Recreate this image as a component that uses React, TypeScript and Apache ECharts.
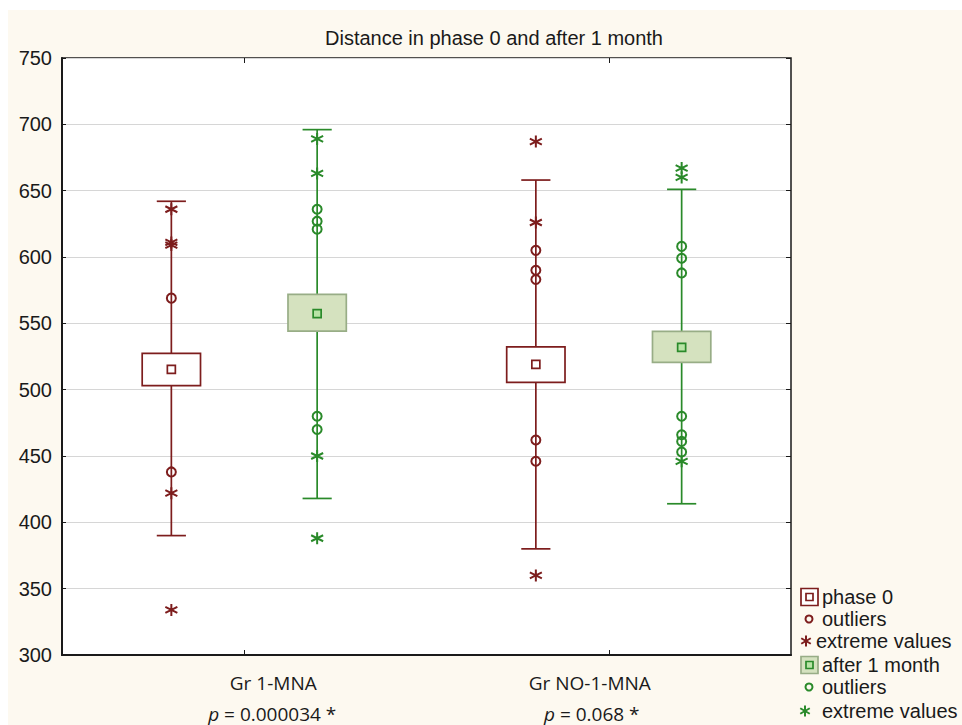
import React, { useEffect, useRef } from 'react';
import * as echarts from 'echarts';

// ---------- data ----------
const categories = ['Gr 1-MNA', 'Gr NO-1-MNA'];
const pValues = ['0.000034 *', '0.068 *'];
const titleText = 'Distance in phase 0 and after 1 month';
const yMin = 300;
const yMax = 750;
const yStep = 50;

// phase 0
const phase0Mean = [515.3, 519.1];
const phase0BoxLow = [503, 505.5];
const phase0BoxHigh = [527.4, 532.2];
const phase0WhiskerLow = [390, 380];
const phase0WhiskerHigh = [642, 658];
const phase0Outliers = [
  [569, 438],
  [605, 590, 583, 462, 446],
];
const phase0Extremes = [
  [636, 611, 609, 422, 334],
  [687, 626, 360],
];

// after 1 month
const afterMean = [557.3, 531.9];
const afterBoxLow = [544.2, 520.6];
const afterBoxHigh = [571.9, 544];
const afterWhiskerLow = [418, 414];
const afterWhiskerHigh = [696, 651];
const afterOutliers = [
  [636, 627, 621, 480, 470],
  [608, 599, 588, 480, 466, 461, 453],
];
const afterExtremes = [
  [689, 663, 450, 388],
  [667, 660, 446],
];

const legendLabels = ['phase 0', 'outliers', 'extreme values', 'after 1 month', 'outliers', 'extreme values'];

// ---------- styles ----------
const RED = '#7d1d1d';
const GREEN = '#2a8a2a';
const GREEN_BOX = '#d5e2bf';
const GREEN_BOX_BORDER = '#98ad86';
const GREEN_MEAN = '#b9e4a6';
const BG = '#fdf9f0';
const FONT = '"Liberation Sans", Arial, sans-serif';
const ASTERISK = 'path://M5 0L5 10M0.67 2.5L9.33 7.5M0.67 7.5L9.33 2.5';

const groupX = (g: number, side: number) => g * 2 + 1 + side * 0.4;

function boxRows(side: number, mean: number[], bl: number[], bh: number[], wl: number[], wh: number[]) {
  return categories.map((_, g) => [groupX(g, side), wl[g], bl[g], bh[g], wh[g], mean[g]]);
}

function pointRows(side: number, vals: number[][]) {
  const out: number[][] = [];
  vals.forEach((arr, g) => arr.forEach((v) => out.push([groupX(g, side), v])));
  return out;
}

function makeRender(stroke: string, boxFill: string, boxStroke: string, meanFill: string) {
  return (params: any, api: any) => {
    const x = api.value(0);
    const [cx, yWL] = api.coord([x, api.value(1)]);
    const yBL = api.coord([x, api.value(2)])[1];
    const yBH = api.coord([x, api.value(3)])[1];
    const yWH = api.coord([x, api.value(4)])[1];
    const yM = api.coord([x, api.value(5)])[1];
    const bw = api.size([0.32, 0])[0];
    const cw = api.size([0.16, 0])[0];
    const ls = { stroke, lineWidth: 1.7 };
    return {
      type: 'group',
      children: [
        { type: 'line', shape: { x1: cx, y1: yWL, x2: cx, y2: yWH }, style: ls },
        { type: 'line', shape: { x1: cx - cw / 2, y1: yWL, x2: cx + cw / 2, y2: yWL }, style: ls },
        { type: 'line', shape: { x1: cx - cw / 2, y1: yWH, x2: cx + cw / 2, y2: yWH }, style: ls },
        {
          type: 'rect',
          shape: { x: cx - bw / 2, y: yBH, width: bw, height: yBL - yBH },
          style: { fill: boxFill, stroke: boxStroke, lineWidth: 1.7 },
        },
        {
          type: 'rect',
          shape: { x: cx - 4, y: yM - 4, width: 8, height: 8 },
          style: { fill: meanFill, stroke, lineWidth: 1.7 },
        },
      ],
    };
  };
}

function asteriskGraphic(cx: number, cy: number, color: string) {
  const r = 5.5;
  const dx = r * 0.866;
  const dy = r * 0.5;
  const st = { stroke: color, lineWidth: 2 };
  return {
    type: 'group',
    children: [
      { type: 'line', shape: { x1: cx, y1: cy - r, x2: cx, y2: cy + r }, style: st },
      { type: 'line', shape: { x1: cx - dx, y1: cy - dy, x2: cx + dx, y2: cy + dy }, style: st },
      { type: 'line', shape: { x1: cx - dx, y1: cy + dy, x2: cx + dx, y2: cy - dy }, style: st },
    ],
  };
}

function legendGraphics() {
  const tStyle = (text: string, x: number, y: number) => ({
    type: 'text',
    x,
    y,
    style: { text, font: `20px ${FONT}`, fill: '#1a1a1a', textVerticalAlign: 'middle' },
  });
  const ys = [587, 609, 631, 655, 677, 701];
  const textX = 814;
  return [
    { type: 'rect', shape: { x: 793, y: ys[0] - 8.5, width: 17, height: 17 }, style: { fill: '#fff', stroke: RED, lineWidth: 1.7 } },
    { type: 'rect', shape: { x: 798, y: ys[0] - 3.5, width: 7, height: 7 }, style: { fill: '#fff', stroke: RED, lineWidth: 1.7 } },
    tStyle(legendLabels[0], textX, ys[0]),
    { type: 'circle', shape: { cx: 801, cy: ys[1], r: 3.5 }, style: { fill: 'none', stroke: RED, lineWidth: 2 } },
    tStyle(legendLabels[1], textX, ys[1]),
    asteriskGraphic(798, ys[2], RED),
    tStyle(legendLabels[2], 808, ys[2]),
    { type: 'rect', shape: { x: 793, y: ys[3] - 8.5, width: 17, height: 17 }, style: { fill: GREEN_BOX, stroke: GREEN_BOX_BORDER, lineWidth: 1.7 } },
    { type: 'rect', shape: { x: 798, y: ys[3] - 3.5, width: 7, height: 7 }, style: { fill: GREEN_MEAN, stroke: GREEN, lineWidth: 1.7 } },
    tStyle(legendLabels[3], textX, ys[3]),
    { type: 'circle', shape: { cx: 801, cy: ys[4], r: 3.5 }, style: { fill: 'none', stroke: GREEN, lineWidth: 2 } },
    tStyle(legendLabels[4], textX, ys[4]),
    asteriskGraphic(797, ys[5], GREEN),
    tStyle(legendLabels[5], textX, ys[5]),
  ];
}

export default function App() {
  const ref = useRef<HTMLDivElement>(null);

  useEffect(() => {
    if (!ref.current) return;
    const chart = echarts.init(ref.current, undefined, { renderer: 'svg' });

    const base = { fontFamily: '"Open Sans", sans-serif', fontSize: 19, color: '#1a1a1a', lineHeight: 31 };
    const richLabel: any = {
      g0: { ...base, padding: [0, 0, 0, 58] },
      i0: { ...base, fontStyle: 'italic', padding: [0, 0, 0, 56] },
      q0: { ...base },
      g1: { ...base, padding: [0, 38, 0, 0] },
      i1: { ...base, fontStyle: 'italic' },
      q1: { ...base, padding: [0, 34, 0, 0] },
    };

    const scatterBase = { type: 'scatter', xAxisIndex: 1, yAxisIndex: 0, z: 3 };

    const option: any = {
      animation: false,
      backgroundColor: BG,
      title: {
        text: titleText,
        left: 481,
        top: 13,
        textAlign: 'center',
        textStyle: { fontFamily: FONT, fontSize: 20, fontWeight: 'normal', color: '#1a1a1a' },
      },
      grid: {
        left: 54,
        top: 48,
        right: 171,
        bottom: 70,
        show: true,
        backgroundColor: '#ffffff',
        borderColor: '#1a1a1a',
        borderWidth: 1.5,
        containLabel: false,
      },
      xAxis: [
        {
          type: 'category',
          data: categories,
          position: 'bottom',
          boundaryGap: true,
          axisLine: { show: true, lineStyle: { color: '#1a1a1a', width: 2 } },
          axisTick: { show: true, inside: true, alignWithLabel: true, length: 5, lineStyle: { color: '#1a1a1a' } },
          splitLine: { show: false },
          axisLabel: {
            margin: 12,
            interval: 0,
            formatter: (value: string, index: number) =>
              `{g${index}|${value}}\n{i${index}|p}{q${index}| = ${pValues[index]}}`,
            rich: richLabel,
          },
        },
        {
          type: 'value',
          min: 0,
          max: categories.length * 2,
          show: false,
          splitLine: { show: false },
        },
        {
          type: 'category',
          data: categories,
          position: 'top',
          boundaryGap: true,
          axisLine: { show: false },
          axisTick: { show: true, inside: true, alignWithLabel: true, length: 5, lineStyle: { color: '#1a1a1a' } },
          axisLabel: { show: false },
          splitLine: { show: false },
        },
      ],
      yAxis: [
        {
          type: 'value',
          min: yMin,
          max: yMax,
          interval: yStep,
          position: 'left',
          axisLine: { show: true, lineStyle: { color: '#1a1a1a', width: 2 } },
          axisTick: { show: true, inside: true, length: 4, lineStyle: { color: '#1a1a1a' } },
          axisLabel: { margin: 10, fontFamily: FONT, fontSize: 20, color: '#1a1a1a' },
          splitLine: { show: true, lineStyle: { color: '#d6d6d6', width: 1.2 } },
        },
        {
          type: 'value',
          min: yMin,
          max: yMax,
          interval: yStep,
          position: 'right',
          axisLine: { show: false },
          axisTick: { show: true, inside: true, length: 5, lineStyle: { color: '#1a1a1a' } },
          axisLabel: { show: false },
          splitLine: { show: false },
        },
      ],
      series: [
        {
          name: 'phase 0',
          type: 'custom',
          xAxisIndex: 1,
          yAxisIndex: 0,
          renderItem: makeRender(RED, '#ffffff', RED, '#ffffff'),
          encode: { x: 0, y: [1, 2, 3, 4, 5] },
          data: boxRows(-1, phase0Mean, phase0BoxLow, phase0BoxHigh, phase0WhiskerLow, phase0WhiskerHigh),
          z: 2,
        },
        {
          name: 'after 1 month',
          type: 'custom',
          xAxisIndex: 1,
          yAxisIndex: 0,
          renderItem: makeRender(GREEN, GREEN_BOX, GREEN_BOX_BORDER, GREEN_MEAN),
          encode: { x: 0, y: [1, 2, 3, 4, 5] },
          data: boxRows(1, afterMean, afterBoxLow, afterBoxHigh, afterWhiskerLow, afterWhiskerHigh),
          z: 2,
        },
        {
          ...scatterBase,
          name: 'phase 0 outliers',
          symbol: 'circle',
          symbolSize: 9,
          itemStyle: { color: 'rgba(255,255,255,0)', borderColor: RED, borderWidth: 2, opacity: 1 },
          data: pointRows(-1, phase0Outliers),
        },
        {
          ...scatterBase,
          name: 'phase 0 extreme values',
          symbol: ASTERISK,
          symbolSize: 12,
          itemStyle: { color: 'none', borderColor: RED, borderWidth: 2, opacity: 1 },
          data: pointRows(-1, phase0Extremes),
        },
        {
          ...scatterBase,
          name: 'after 1 month outliers',
          symbol: 'circle',
          symbolSize: 9,
          itemStyle: { color: 'rgba(255,255,255,0)', borderColor: GREEN, borderWidth: 2, opacity: 1 },
          data: pointRows(1, afterOutliers),
        },
        {
          ...scatterBase,
          name: 'after 1 month extreme values',
          symbol: ASTERISK,
          symbolSize: 12,
          itemStyle: { color: 'none', borderColor: GREEN, borderWidth: 2, opacity: 1 },
          data: pointRows(1, afterExtremes),
        },
      ],
      graphic: legendGraphics(),
    };

    chart.setOption(option);
    return () => chart.dispose();
  }, []);

  return (
    <div
      ref={ref}
      style={{ position: 'fixed', left: 8, top: 10, width: 954, height: 715, background: BG }}
    />
  );
}
